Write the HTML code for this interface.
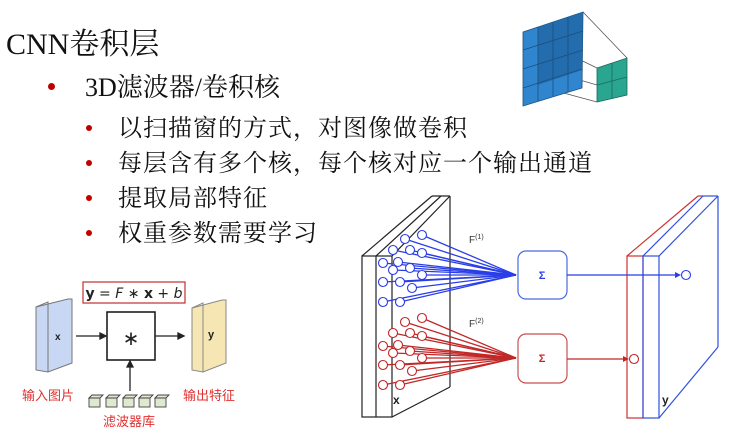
<!DOCTYPE html>
<html><head><meta charset="utf-8"><style>
body{margin:0;width:730px;height:433px;background:#fff;overflow:hidden;position:relative;font-family:"Liberation Serif","Noto Serif CJK SC",serif}
.t{position:absolute;white-space:nowrap;color:#111}
.b{position:absolute;width:6px;height:6px;border-radius:50%;background:#c00000}
</style></head><body>
<div class="t" style="left:6px;top:19px;font-size:30px">CNN卷积层</div>
<div class="b" style="left:48px;top:83px;width:7px;height:7px"></div>
<div class="t" style="left:85px;top:67px;font-size:26px">3D滤波器/卷积核</div>
<div class="b" style="left:86px;top:125px"></div>
<div class="t" style="left:118px;top:108px;font-size:24px;letter-spacing:1px">以扫描窗的方式，对图像做卷积</div>
<div class="b" style="left:86px;top:160px"></div>
<div class="t" style="left:118px;top:143px;font-size:24px;letter-spacing:1px">每层含有多个核，每个核对应一个输出通道</div>
<div class="b" style="left:86px;top:195px"></div>
<div class="t" style="left:118px;top:178px;font-size:24px;letter-spacing:1px">提取局部特征</div>
<div class="b" style="left:86px;top:230px"></div>
<div class="t" style="left:118px;top:213px;font-size:24px;letter-spacing:1px">权重参数需要学习</div>

<svg width="730" height="433" style="position:absolute;left:0;top:0" font-family="Liberation Sans, Noto Sans CJK SC, sans-serif">
<g stroke="#555" stroke-width="0.8" fill="none">
<line x1="583" y1="12" x2="627" y2="58"/><line x1="560" y1="50" x2="597" y2="68"/><line x1="545" y1="70" x2="597" y2="85"/><line x1="545" y1="88" x2="597" y2="102"/>
</g>
<polygon points="523,32 583,12 582,88 523,106" fill="#2f86cf" stroke="#1d4f7a" stroke-width="0.8"/>
<polygon points="538,27 583,12 582,70 538,85" fill="#2269a8" opacity="0.9"/>
<g stroke="#1d4f7a" stroke-width="0.8">
<line x1="538" y1="27" x2="538" y2="101"/><line x1="553" y1="22" x2="553" y2="96"/><line x1="568" y1="17" x2="568" y2="92"/>
<line x1="523" y1="50" x2="583" y2="31"/><line x1="523" y1="69" x2="583" y2="50"/><line x1="523" y1="88" x2="582" y2="69"/>
</g>
<polygon points="597,68 627,58 627,95 597,102" fill="#2aa58f" stroke="#1b6a5c" stroke-width="0.8"/>
<line x1="612" y1="63" x2="612" y2="99" stroke="#1b6a5c" stroke-width="0.8"/>
<line x1="597" y1="85" x2="627" y2="77" stroke="#1b6a5c" stroke-width="0.8"/>

<rect x="83" y="282" width="102" height="21" fill="#fff" stroke="#c03030" stroke-width="1.2"/>
<text x="134" y="298" font-size="14" text-anchor="middle" fill="#222" font-family="DejaVu Sans, sans-serif"><tspan font-weight="bold">y</tspan> = <tspan font-style="italic">F</tspan> ∗ <tspan font-weight="bold">x</tspan> + <tspan font-style="italic">b</tspan></text>
<polygon points="36,307 68,299 72,299 72,363 48,372 36,370" fill="#c8d8f4" stroke="#777" stroke-width="1"/>
<polyline points="36,307 48,302 48,372" fill="none" stroke="#777"/>
<text x="55" y="340" font-size="10" font-weight="bold" fill="#222">x</text>
<polygon points="192,308 222,300 226,300 226,363 203,372 192,370" fill="#f6e6b4" stroke="#888" stroke-width="1"/>
<polyline points="192,308 203,303 203,372" fill="none" stroke="#888"/>
<text x="208" y="338" font-size="11" font-weight="bold" fill="#222">y</text>
<rect x="107" y="312" width="48" height="48" fill="#fff" stroke="#111" stroke-width="1.5"/>
<text x="131" y="345" font-size="20" text-anchor="middle" fill="#222">∗</text>
<g stroke="#222" stroke-width="1.3" fill="#222">
<line x1="76" y1="336" x2="102" y2="336"/><polygon points="106,336 100,333 100,339"/>
<line x1="155" y1="336" x2="180" y2="336"/><polygon points="184,336 178,333 178,339"/>
<line x1="130" y1="391" x2="130" y2="365"/><polygon points="130,361 127,367 133,367"/>
</g>
<g fill="#dfe8d0" stroke="#444" stroke-width="0.9">
<rect x="89" y="398" width="11" height="9"/><rect x="106" y="398" width="11" height="9"/><rect x="123" y="398" width="11" height="9"/><rect x="139" y="398" width="11" height="9"/><rect x="155" y="398" width="11" height="9"/>
<polygon points="89,398 92,395 103,395 100,398"/><polygon points="106,398 109,395 120,395 117,398"/><polygon points="123,398 126,395 137,395 134,398"/><polygon points="139,398 142,395 153,395 150,398"/><polygon points="155,398 158,395 169,395 166,398"/>
</g>
<text x="22" y="400" font-size="13" fill="#e03030">输入图片</text>
<text x="183" y="400" font-size="13" fill="#e03030">输出特征</text>
<text x="103" y="426" font-size="13" fill="#e03030">滤波器库</text>

<g stroke="#222" stroke-width="1.2" fill="none">
<rect x="362" y="256" width="30" height="161" fill="#fff"/>
<line x1="376" y1="256" x2="376" y2="417"/>
<line x1="362" y1="256" x2="432" y2="196"/><line x1="376" y1="256" x2="441" y2="196"/><line x1="392" y1="256" x2="450" y2="196"/>
<line x1="432" y1="196" x2="450" y2="196"/><line x1="450" y1="196" x2="450" y2="387"/><line x1="392" y1="417" x2="450" y2="387"/>
</g>
<text x="393" y="404" font-size="12" font-weight="bold" fill="#222">x</text>
<text x="469" y="243" font-size="10" fill="#333">F<tspan font-size="7" dy="-4">(1)</tspan></text>
<text x="469" y="327" font-size="10" fill="#333">F<tspan font-size="7" dy="-4">(2)</tspan></text>
<g stroke="#2a3ee8" stroke-width="1.3">
<line x1="422" y1="235" x2="516" y2="275"/><line x1="405" y1="239" x2="516" y2="275"/><line x1="393" y1="250" x2="516" y2="275"/><line x1="410" y1="250" x2="516" y2="275"/><line x1="422" y1="253" x2="516" y2="275"/><line x1="383" y1="263" x2="516" y2="275"/><line x1="398" y1="262" x2="516" y2="275"/><line x1="410" y1="268" x2="516" y2="275"/><line x1="422" y1="275" x2="516" y2="275"/><line x1="383" y1="282" x2="516" y2="275"/><line x1="393" y1="270" x2="516" y2="275"/><line x1="400" y1="282" x2="516" y2="275"/><line x1="412" y1="288" x2="516" y2="275"/><line x1="383" y1="302" x2="516" y2="275"/><line x1="400" y1="302" x2="516" y2="275"/>
</g>
<g stroke="#c02828" stroke-width="1.3">
<line x1="422" y1="318" x2="516" y2="358"/><line x1="405" y1="322" x2="516" y2="358"/><line x1="393" y1="333" x2="516" y2="358"/><line x1="410" y1="333" x2="516" y2="358"/><line x1="422" y1="336" x2="516" y2="358"/><line x1="383" y1="346" x2="516" y2="358"/><line x1="398" y1="345" x2="516" y2="358"/><line x1="410" y1="351" x2="516" y2="358"/><line x1="422" y1="358" x2="516" y2="358"/><line x1="383" y1="365" x2="516" y2="358"/><line x1="393" y1="353" x2="516" y2="358"/><line x1="400" y1="365" x2="516" y2="358"/><line x1="412" y1="371" x2="516" y2="358"/><line x1="383" y1="385" x2="516" y2="358"/><line x1="400" y1="385" x2="516" y2="358"/>
</g>
<g fill="#fff" stroke="#2a3ee8" stroke-width="1.1">
<circle cx="422" cy="235" r="4.5"/><circle cx="405" cy="239" r="4.5"/><circle cx="393" cy="250" r="4.5"/><circle cx="410" cy="250" r="4.5"/><circle cx="422" cy="253" r="4.5"/><circle cx="383" cy="263" r="4.5"/><circle cx="398" cy="262" r="4.5"/><circle cx="410" cy="268" r="4.5"/><circle cx="422" cy="275" r="4.5"/><circle cx="383" cy="282" r="4.5"/><circle cx="393" cy="270" r="4.5"/><circle cx="400" cy="282" r="4.5"/><circle cx="412" cy="288" r="4.5"/><circle cx="383" cy="302" r="4.5"/><circle cx="400" cy="302" r="4.5"/>
</g>
<g fill="#fff" stroke="#c02828" stroke-width="1.1">
<circle cx="422" cy="318" r="4.5"/><circle cx="405" cy="322" r="4.5"/><circle cx="393" cy="333" r="4.5"/><circle cx="410" cy="333" r="4.5"/><circle cx="422" cy="336" r="4.5"/><circle cx="383" cy="346" r="4.5"/><circle cx="398" cy="345" r="4.5"/><circle cx="410" cy="351" r="4.5"/><circle cx="422" cy="358" r="4.5"/><circle cx="383" cy="365" r="4.5"/><circle cx="393" cy="353" r="4.5"/><circle cx="400" cy="365" r="4.5"/><circle cx="412" cy="371" r="4.5"/><circle cx="383" cy="385" r="4.5"/><circle cx="400" cy="385" r="4.5"/>
</g>
<rect x="518" y="251" width="49" height="48" rx="8" fill="#fff" stroke="#4a6ae0" stroke-width="1.2"/>
<text x="542" y="279" font-size="11" font-weight="bold" text-anchor="middle" fill="#2a3ee8">Σ</text>
<rect x="518" y="334" width="49" height="49" rx="8" fill="#fff" stroke="#c85050" stroke-width="1.2"/>
<text x="542" y="362" font-size="11" font-weight="bold" text-anchor="middle" fill="#c02828">Σ</text>
<g fill="none" stroke-width="1.2">
<line x1="627" y1="256" x2="698" y2="196" stroke="#d03030"/><line x1="698" y1="196" x2="703" y2="196" stroke="#d03030"/>
<rect x="627" y="256" width="16" height="162" stroke="#d03030"/>
<line x1="643" y1="256" x2="703" y2="196" stroke="#3050e0"/><line x1="659" y1="256" x2="718" y2="196" stroke="#3050e0"/>
<line x1="703" y1="196" x2="718" y2="196" stroke="#3050e0"/>
<rect x="643" y="256" width="16" height="162" stroke="#3050e0"/>
<line x1="718" y1="196" x2="718" y2="347" stroke="#3050e0"/><line x1="659" y1="418" x2="718" y2="347" stroke="#3050e0"/>
</g>
<text x="662" y="404" font-size="12" font-weight="bold" fill="#222">y</text>
<line x1="567" y1="275" x2="676" y2="275" stroke="#2a3ee8" stroke-width="1.3"/>
<polygon points="681,275 675,272 675,278" fill="#2a3ee8"/>
<circle cx="686" cy="275" r="4.5" fill="#fff" stroke="#2a3ee8" stroke-width="1.1"/>
<line x1="567" y1="359" x2="624" y2="359" stroke="#c02828" stroke-width="1.3"/>
<polygon points="629,359 623,356 623,362" fill="#c02828"/>
<circle cx="634" cy="359" r="4.5" fill="#fff" stroke="#c02828" stroke-width="1.1"/>
</svg>
</body></html>
